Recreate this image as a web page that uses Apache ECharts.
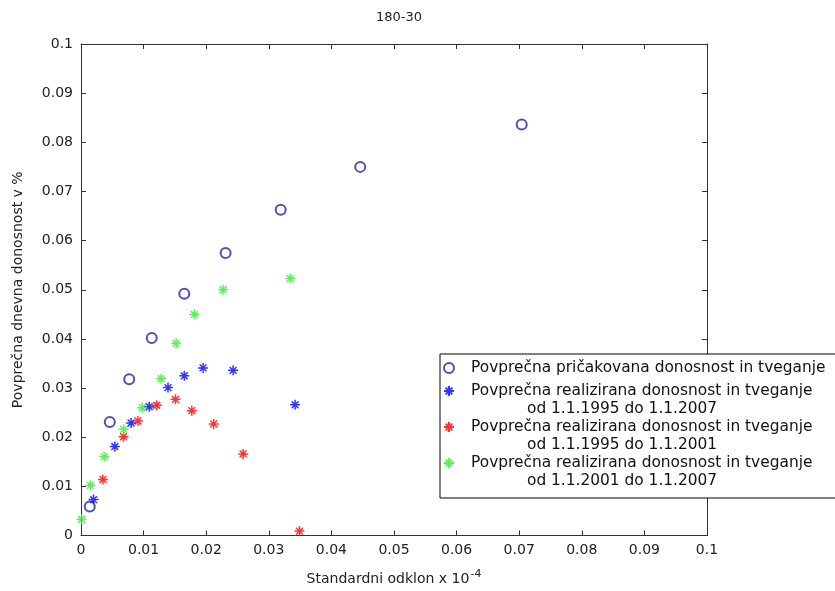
<!DOCTYPE html>
<html>
<head>
<meta charset="utf-8">
<script src="https://cdn.jsdelivr.net/npm/echarts@6/dist/echarts.min.js"></script>
<style>
  html, body { margin: 0; padding: 0; background: #fff; }
  #chart { width: 835px; height: 591px; }
</style>
</head>
<body>
<div id="chart"></div>
<script>
// [std. odklon, donosnost]
const expected = [
  [0.0014, 0.0059], [0.0046, 0.0231], [0.0077, 0.0318], [0.0113, 0.0402],
  [0.0165, 0.0492], [0.0231, 0.0575], [0.0319, 0.0663], [0.0446, 0.0750],
  [0.0704, 0.0836]
]
const real9507 = [
  [0.0020, 0.0073], [0.0054, 0.0181], [0.0080, 0.0229], [0.0109, 0.0262],
  [0.0139, 0.0301], [0.0165, 0.0325], [0.0195, 0.0341], [0.0243, 0.0336],
  [0.0342, 0.0266]
]
const real9501 = [
  [0.0035, 0.0114], [0.0068, 0.0201], [0.0091, 0.0233], [0.0121, 0.0265],
  [0.0151, 0.0277], [0.0177, 0.0254], [0.0212, 0.0227], [0.0259, 0.0166],
  [0.0349, 0.0009]
]
const real0107 = [
  [0.0001, 0.0033], [0.0015, 0.0102], [0.0037, 0.0160], [0.0068, 0.0216],
  [0.0098, 0.0260], [0.0128, 0.0319], [0.0152, 0.0391], [0.0181, 0.0450],
  [0.0227, 0.0500], [0.0334, 0.0523]
]
const seriesNames = ['exp', 'r9507', 'r9501', 'r0107']
const legendLines = [
  ['Povprečna pričakovana donosnost in tveganje'],
  ['Povprečna realizirana donosnost in tveganje', 'od 1.1.1995 do 1.1.2007'],
  ['Povprečna realizirana donosnost in tveganje', 'od 1.1.1995 do 1.1.2001'],
  ['Povprečna realizirana donosnost in tveganje', 'od 1.1.2001 do 1.1.2007']
]

// matlab '*' marker
const star = 'path://M5,0 L5,10 M0,5 L10,5 M1.6,1.6 L8.4,8.4 M1.6,8.4 L8.4,1.6'
const font = 'DejaVu Sans, sans-serif'

function starSeries(name, data, color) {
  return {
    name: name,
    type: 'scatter',
    data: data,
    symbol: star,
    symbolSize: 10,
    itemStyle: { color: 'rgba(0,0,0,0)', borderColor: color, borderWidth: 1.5 }
  }
}

const axisBase = {
  type: 'value',
  min: 0,
  max: 0.1,
  interval: 0.01,
  splitLine: { show: false },
  axisLine: { onZero: false, lineStyle: { color: '#333', width: 1 } },
  axisTick: { inside: true, length: 5, lineStyle: { color: '#333' } }
}

const chart = echarts.init(document.getElementById('chart'))
chart.setOption({
  animation: false,
  backgroundColor: '#fff',
  title: {
    text: '180-30',
    left: 394,
    top: 6,
    textAlign: 'center',
    textStyle: { fontFamily: font, fontSize: 13, fontWeight: 'normal', color: '#222' }
  },
  grid: { left: 81, right: 128, top: 44, bottom: 54, containLabel: false },
  xAxis: [
    Object.assign({}, axisBase, {
      position: 'bottom',
      axisLabel: { fontFamily: font, fontSize: 14, color: '#222', margin: 8 },
      name: 'Standardni odklon x 10{sup|-4}',
      nameLocation: 'middle',
      nameGap: 33,
      nameTextStyle: {
        fontFamily: font, fontSize: 14, color: '#222',
        rich: { sup: { fontFamily: font, fontSize: 11, color: '#222', verticalAlign: 'top', padding: [0, 0, 10, 1] } }
      }
    }),
    Object.assign({}, axisBase, { position: 'top', axisLabel: { show: false } })
  ],
  yAxis: [
    Object.assign({}, axisBase, {
      position: 'left',
      axisLabel: { fontFamily: font, fontSize: 14, color: '#222', margin: 8 },
      name: 'Povprečna dnevna donosnost v %',
      nameLocation: 'middle',
      nameGap: 56,
      nameTextStyle: { fontFamily: font, fontSize: 14, color: '#222' }
    }),
    Object.assign({}, axisBase, { position: 'right', axisLabel: { show: false } })
  ],
  legend: {
    orient: 'vertical',
    left: 440,
    top: 354,
    padding: [0, 20, 8, 3],
    itemGap: -18,
    itemWidth: 14,
    itemHeight: 10,
    backgroundColor: '#fff',
    borderColor: '#000',
    borderWidth: 1,
    data: seriesNames,
    formatter: function (name) {
      const lines = legendLines[seriesNames.indexOf(name)]
      if (!lines[1]) return '{s| }\n{a|' + lines[0] + '}\n{s| }'
      return '{t| }\n{a|' + lines[0] + '}\n{b|' + lines[1] + '}'
    },
    textStyle: {
      fontFamily: font,
      fontSize: 15,
      lineHeight: 18,
      color: '#111',
      rich: {
        s: { fontSize: 4, lineHeight: 5, height: 5 },
        t: { fontSize: 15, lineHeight: 18, height: 18 },
        a: { fontFamily: font, fontSize: 15.4, lineHeight: 18, color: '#111', padding: [0, 0, 0, 10] },
        b: { fontFamily: font, fontSize: 15.4, lineHeight: 18, color: '#111', padding: [0, 0, 0, 66] }
      }
    }
  },
  series: [
    {
      name: 'exp',
      type: 'scatter',
      data: expected,
      symbol: 'emptyCircle',
      symbolSize: 10,
      itemStyle: { color: '#2424a0', borderWidth: 1.5 }
    },
    starSeries('r9507', real9507, '#0000ff'),
    starSeries('r9501', real9501, '#ff0000'),
    starSeries('r0107', real0107, '#33ee33')
  ]
})
</script>
</body>
</html>
